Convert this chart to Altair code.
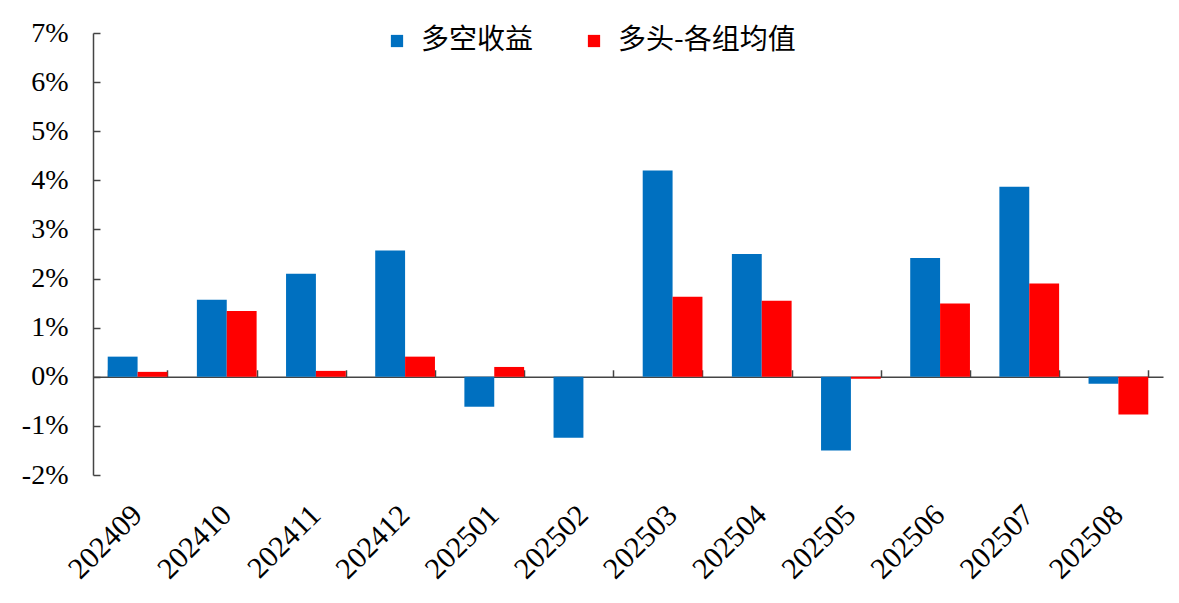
import altair as alt
import pandas as pd

months = ["202409", "202410", "202411", "202412", "202501", "202502",
          "202503", "202504", "202505", "202506", "202507", "202508"]
long_short = [0.41, 1.57, 2.10, 2.57, -0.61, -1.24, 4.20, 2.50, -1.50, 2.42, 3.87, -0.14]
long_avg = [0.10, 1.34, 0.12, 0.41, 0.20, 0.0, 1.63, 1.55, -0.04, 1.49, 1.90, -0.77]
series_names = ["多空收益", "多头-各组均值"]
colors = ["#0070C0", "#FF0000"]

rows = []
for m, a, b in zip(months, long_short, long_avg):
    rows.append({"month": m, "series": series_names[0], "value": a / 100})
    rows.append({"month": m, "series": series_names[1], "value": b / 100})
df = pd.DataFrame(rows)

W, H = 1070, 442
serif = "Liberation Serif, Times New Roman, serif"
yvals = [round(-0.02 + i * 0.01, 2) for i in range(10)]

xscale = alt.Scale(domain=months, paddingInner=0.33, paddingOuter=0.165)
yscale = alt.Scale(domain=[-0.02, 0.07], nice=False, zero=False)

bars = alt.Chart(df).mark_bar().encode(
    x=alt.X("month:N", scale=xscale, sort=months,
            axis=alt.Axis(orient="bottom", title=None, domain=False, ticks=False,
                          labelAngle=-45, labelAlign="right", labelBaseline="middle",
                          labelFont=serif, labelFontSize=30, labelColor="#000",
                          labelPadding=35)),
    xOffset=alt.XOffset("series:N", sort=series_names),
    y=alt.Y("value:Q", scale=yscale,
            axis=alt.Axis(orient="left", title=None, values=yvals,
                          format=".0%", labelExpr="replace(datum.label, '\u2212', '-')",
                          domain=False, ticks=False, grid=False,
                          labelFont=serif, labelFontSize=28, labelColor="#000",
                          labelPadding=25)),
    color=alt.Color("series:N", sort=series_names,
                    scale=alt.Scale(domain=series_names, range=colors),
                    legend=alt.Legend(orient="none", legendX=290, legendY=-6,
                                      direction="horizontal", title=None,
                                      symbolType="square", symbolSize=150,
                                      symbolStrokeWidth=0,
                                      labelFont="Noto Sans CJK SC", labelFontSize=28,
                                      labelColor="#000", columnPadding=46,
                                      labelOffset=10, labelLimit=400)),
)

zero_df = pd.DataFrame({"month": months, "value": [0.0] * len(months)})
axis_layer = alt.Chart(zero_df).mark_tick(opacity=0).encode(
    x=alt.X("month:N", scale=xscale, sort=months,
            axis=alt.Axis(orient="top", title=None, labels=False, offset=-(H * 7 / 9),
                          domain=True, domainColor="#444", domainWidth=1.5,
                          ticks=True, tickBand="extent", tickColor="#444",
                          tickWidth=1.5, tickSize=7)),
    y=alt.Y("value:Q", scale=yscale,
            axis=alt.Axis(orient="right", title=None, labels=False, offset=-W,
                          values=yvals,
                          domain=True, domainColor="#444", domainWidth=1.5,
                          ticks=True, tickColor="#444", tickWidth=1.5, tickSize=7,
                          grid=False)),
)

chart = alt.layer(bars, axis_layer).resolve_axis(x="independent", y="independent").properties(
    width=W, height=H,
    autosize=alt.AutoSizeParams(type="none"),
    padding={"left": 85, "top": 25, "right": 8, "bottom": 120},
).configure(background="white").configure_view(stroke=None)

chart.save("out.html", embed_options={"renderer": "svg", "actions": False})
